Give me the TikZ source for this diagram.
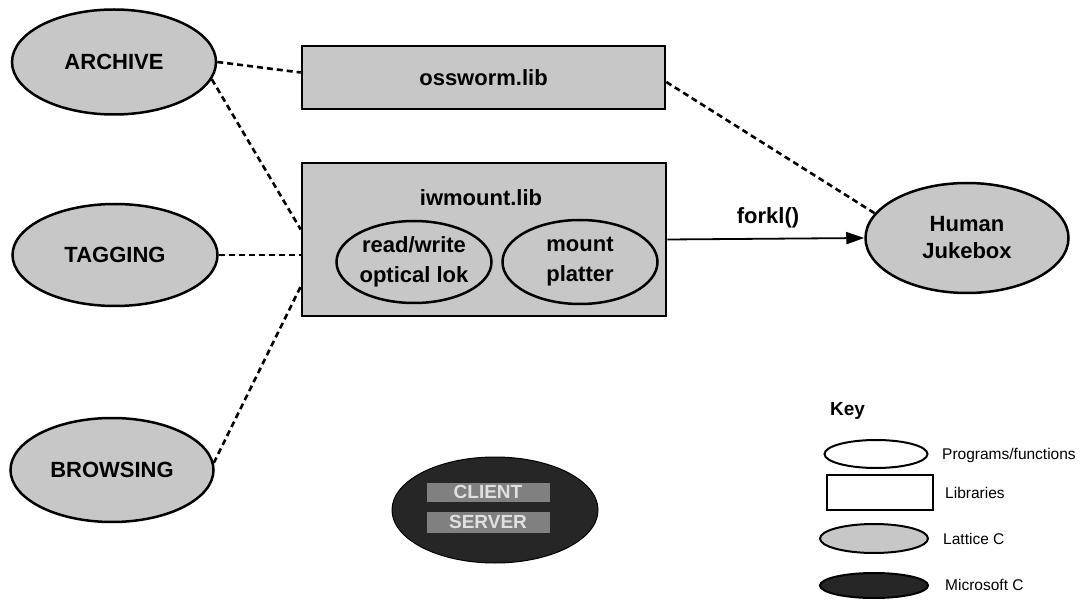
\documentclass[tikz,border=0pt]{standalone}
\usepackage{fontspec}
\setmainfont{Liberation Sans}
\usetikzlibrary{shapes.geometric,arrows.meta,calc}
\begin{document}
\begin{tikzpicture}[x=1pt,y=-1pt,
  lattice/.style={ellipse,draw=black,line width=2.5pt,fill=black!22,inner sep=0pt,font=\fontsize{22}{27}\selectfont\bfseries,align=center},
  lib/.style={rectangle,draw=black,line width=2.6pt,fill=black!22,inner sep=0pt,font=\fontsize{22}{27}\selectfont\bfseries},
  prog/.style={ellipse,draw=black,line width=2.5pt,inner sep=0pt,font=\fontsize{22}{30}\selectfont\bfseries,align=center},
  dashline/.style={dash pattern=on 6pt off 4pt,line width=2.6pt},
  keylabel/.style={anchor=west,font=\fontsize{15.5}{18}\selectfont,inner sep=0pt},
  lbl/.style={font=\fontsize{22}{27}\selectfont\bfseries,inner sep=0pt},
  keyshape/.style={draw=black,line width=2pt,inner sep=0pt}
]
\useasboundingbox (0,0) rectangle (1084,601);

% left program ellipses
\node[lattice,minimum width=204pt,minimum height=105pt] (archive) at (114,62) {ARCHIVE};
\node[lattice,minimum width=205pt,minimum height=102pt] (tagging) at (115,255) {TAGGING};
\node[lattice,minimum width=203pt,minimum height=104pt] (browsing) at (112,470) {BROWSING};

% libraries
\node[lib,minimum width=363pt,minimum height=63pt] (ossworm) at (483.5,77.5) {ossworm.lib};
\node[lib,minimum width=364pt,minimum height=153pt] (iwmount) at (484,239.5) {};
\node[lbl] (iwtitle) at (481,198) {iwmount.lib};
\node[prog,minimum width=155pt,minimum height=82pt] (rw) at (414,262) {read/write\\optical lok};
\node[prog,minimum width=155pt,minimum height=84pt] (mount) at (580,262) {mount\\platter};

% jukebox
\node[lattice,minimum width=203pt,minimum height=110pt] (jukebox) at (967,238) {Human\\Jukebox};

% server
\node[ellipse,draw=black,line width=1pt,fill=black!85,minimum width=206pt,minimum height=106pt] (server) at (495,510) {};
\fill[black!50] (427,483) rectangle (550,502);
\fill[black!50] (427,512) rectangle (550,533);
\node[font=\fontsize{19}{22}\selectfont\bfseries,text=black!12,inner sep=0pt] (srvA) at (488,492) {CLIENT};
\node[font=\fontsize{19}{22}\selectfont\bfseries,text=black!12,inner sep=0pt] (srvB) at (488,522) {SERVER};

% connectors
\draw[dashline] (archive.east) -- ($(ossworm.west)+(0,-5)$);
\draw[dashline] (archive.-10) -- ($(iwmount.west)+(0,-10)$);
\draw[dashline] (tagging.east) -- (tagging.east -| iwmount.west);
\draw[dashline] (browsing.4) -- ($(iwmount.west)+(0,47)$);
\draw[dashline] ($(ossworm.east)+(0,4.5)$) -- (jukebox.165);
\draw[line width=1.8pt,-{Triangle[length=18pt,width=12pt]}] (iwmount.east) -- (jukebox.west);
\node[lbl] (fork) at (768,218) {forkl()};

% key
\node[font=\fontsize{19}{22}\selectfont\bfseries,anchor=west,inner sep=0pt] (key) at (830,411) {Key};
\node[keyshape,ellipse,fill=white,minimum width=103pt,minimum height=28pt] (k1) at (876,454) {};
\node[keylabel] (k1l) at (942,455) {Programs/functions};
\node[keyshape,rectangle,fill=white,minimum width=106pt,minimum height=35pt] (k2) at (880,492.5) {};
\node[keylabel] (k2l) at (945,493) {Libraries};
\node[keyshape,ellipse,fill=black!22,minimum width=108pt,minimum height=29pt] (k3) at (874,538.5) {};
\node[keylabel] (k3l) at (943,539) {Lattice C};
\node[keyshape,ellipse,fill=black!85,minimum width=108pt,minimum height=25pt] (k4) at (874,585.5) {};
\node[keylabel] (k4l) at (945,585) {Microsoft C};
\end{tikzpicture}
\end{document}
